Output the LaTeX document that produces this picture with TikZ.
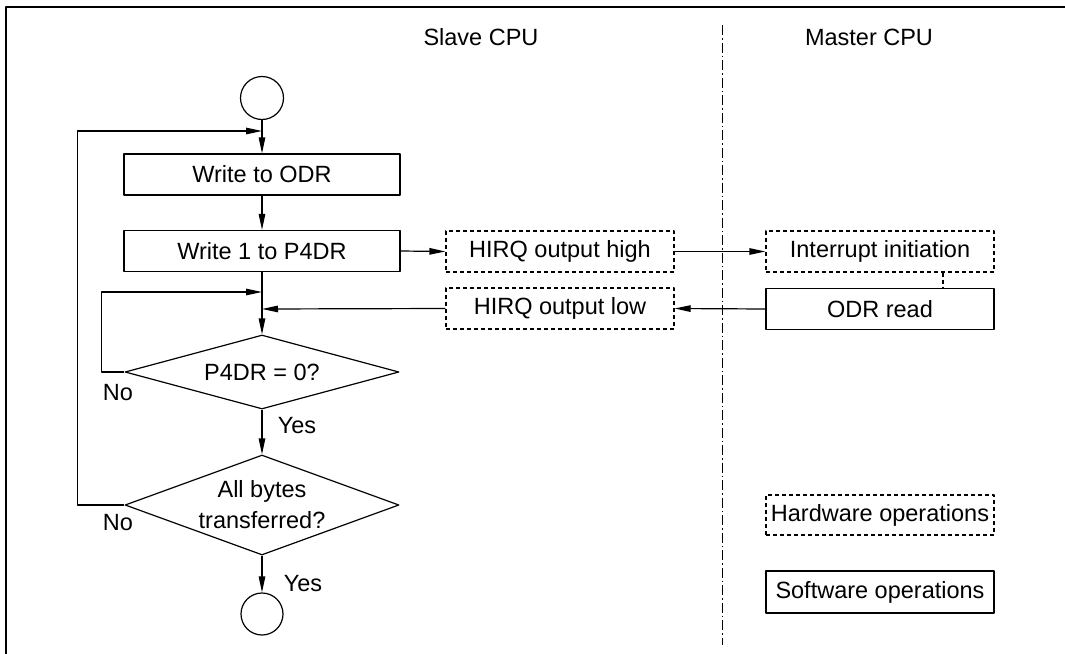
\documentclass[tikz,border=0pt]{standalone}
\usepackage{fontspec}
\setmainfont{Liberation Sans}
\usetikzlibrary{arrows.meta,shapes.geometric}
\tikzset{
  every picture/.style={
    line join=round,
    >={Triangle[length=16pt,width=6.5pt]},   % one arrow tip everywhere
  },
  sw/.style={draw, line width=1.2pt, minimum width=276pt, minimum height=41pt, inner sep=0pt},
  hw/.style={draw, line width=1.2pt, dash pattern=on 4pt off 3pt, minimum width=228pt, minimum height=41pt, inner sep=0pt},
  term/.style={draw, line width=1.2pt, circle, minimum size=43pt, inner sep=0pt},
  decide/.style={draw, line width=1.2pt, diamond, inner sep=0pt, align=center},
  flow/.style={line width=1.2pt},
}

\begin{document}
\begin{tikzpicture}[x=1pt, y=-1pt, font=\fontsize{23.5}{31}\selectfont]
\useasboundingbox (0,0) rectangle (1065,653);
% Frame (right and bottom edges fall outside the page)
\draw[line width=2.5pt] (6,700) -- (6,7) -- (1100,7);
% Column headings and divider
\node (slave) at (481,37) {Slave CPU};
\node (master) at (869,37) {Master CPU};
\draw[line width=1.2pt, dash pattern=on 10pt off 3pt on 1.5pt off 3pt] (722.7,25) -- (722.7,645);

% Slave CPU flow
\node[term] (start) at (262,98) {};
\node[sw] (odr) at (262,174.5) {Write to ODR};
\node[sw] (wr1) at (262,251) {Write 1 to P4DR};
\node[decide, aspect=3.7, minimum width=274pt, minimum height=74pt] (check) at (262,372) {P4DR = 0?};
\node[decide, aspect=2.74, minimum width=274pt, minimum height=100pt] (alldone) at (262,505) {All bytes\\transferred?};
\node[term, minimum size=42pt] (end) at (262,614) {};

% Hardware and master side
\node[hw] (hirqhigh) at (560,251.5) {HIRQ output high};
\node[hw] (hirqlow) at (560,308.5) {HIRQ output low};
\node[hw] (intr) at (880,251.5) {Interrupt initiation};
\node[sw, minimum width=228pt] (odrread) at (880,309) {ODR read};

% Legend
\node[hw, minimum height=40pt] (hwkey) at (880,515) {Hardware operations};
\node[sw, minimum width=228pt, minimum height=42pt] (swkey) at (880,592) {Software operations};

% Labels
\node (no1) at (118,393) {No};
\node (no2) at (118,523) {No};
\node (yes1) at (297,426) {Yes};
\node (yes2) at (303,584) {Yes};

% Join points on the main line
\coordinate (join1) at (262,131);
\coordinate (join2) at (262,292);
\coordinate (join3) at (262,309);

% Connectors
\draw[flow, ->] (start) -- (odr);
\draw[flow, ->] (odr) -- (wr1);
\draw[flow, ->] (wr1) -- (check.north);
\draw[flow, ->] (check) -- (alldone);
\draw[flow, ->] (alldone) -- (end);
\draw[flow, ->] (alldone.west) -- ++(-47,0) |- (join1);
\draw[flow, ->] (check.west) -- ++(-23,0) |- (join2);
\draw[flow, ->] (wr1.east) -- (hirqhigh.west);
\draw[flow, ->] (hirqhigh.east) -- (intr.west);
\draw[flow, dash pattern=on 4pt off 3pt] ([xshift=63pt]intr.south) -- ([xshift=63pt]odrread.north);
\draw[flow, ->] (odrread.west) -- (hirqlow.east);
\draw[flow, ->] (hirqlow.west) -- (join3);
\end{tikzpicture}
\end{document}
